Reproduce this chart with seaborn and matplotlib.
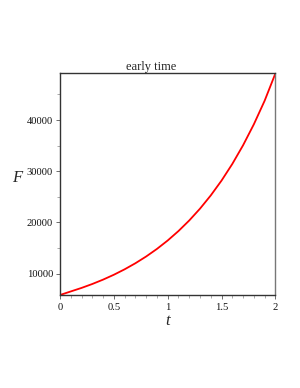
import matplotlib
matplotlib.use("Agg")
import matplotlib.pyplot as plt
import seaborn as sns
import pandas as pd
from matplotlib.ticker import MultipleLocator

t_vals = [0.0, 0.1, 0.2, 0.3, 0.4, 0.5, 0.6, 0.7, 0.8, 0.9, 1.0,
          1.1, 1.2, 1.3, 1.4, 1.5, 1.6, 1.7, 1.8, 1.9, 2.0]
F_vals = [5800, 6494, 7183, 7951, 8805, 9757, 10820, 12004, 13326, 14803, 16454,
          18299, 20364, 22675, 25264, 28165, 31418, 35068, 39165, 43764, 49100]
x_ticks = [0, 0.5, 1, 1.5, 2]
x_tick_labels = ["0", "0.5", "1", "1.5", "2"]
y_ticks = [10000, 20000, 30000, 40000]
y_tick_labels = ["10000", "20000", "30000", "40000"]
title_text = "early time"

sns.set_style("white")
plt.rcParams["font.family"] = ["Liberation Serif", "DejaVu Serif"]

df = pd.DataFrame({"t": t_vals, "F": F_vals})

fig = plt.figure(figsize=(3.0, 3.88), dpi=100)
ax = fig.add_axes([0.2, 0.2397, 0.718, 0.571])
sns.lineplot(data=df, x="t", y="F", ax=ax, color="#ff0000", linewidth=1.3)

ax.set_xlim(min(t_vals), max(t_vals))
ax.set_ylim(min(F_vals), max(F_vals))
ax.set_xticks(x_ticks)
ax.set_xticklabels(x_tick_labels)
ax.set_yticks(y_ticks)
ax.set_yticklabels(y_tick_labels)
ax.xaxis.set_minor_locator(MultipleLocator(0.1))
ax.yaxis.set_minor_locator(MultipleLocator(5000))

ax.tick_params(axis="both", which="major", direction="out", length=3, width=0.6,
               color="#555555", labelsize=7.6, pad=2, bottom=True, left=True,
               labelcolor="#111111")
ax.tick_params(axis="x", which="major", pad=3)
ax.tick_params(axis="both", which="minor", direction="out", length=2, width=0.5,
               color="#888888", bottom=True, left=True)

for s in ax.spines.values():
    s.set_color("#333333")
    s.set_linewidth(1.0)
ax.spines["right"].set_color("#777777")

ax.set_xlabel("t", fontstyle="italic", fontsize=12)
ax.set_ylabel("F", fontstyle="italic", fontsize=12, rotation=0, ha="center", va="center")
ax.xaxis.set_label_coords(0.5, -0.082)
ax.yaxis.set_label_coords(-0.2, 0.526)

ax.text(0.425, 1.004, title_text, transform=ax.transAxes, ha="center", va="bottom",
        fontsize=9)

fig.savefig("out.png", dpi=100)
